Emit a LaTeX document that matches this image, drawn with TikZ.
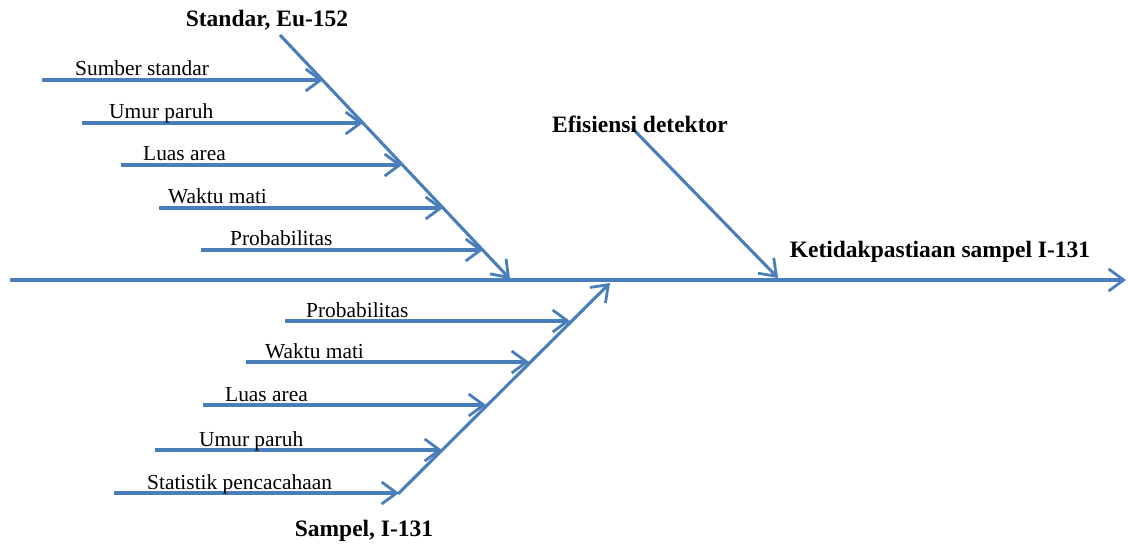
\documentclass[tikz,border=0pt]{standalone}
\usepackage{fontspec}
\setmainfont{Liberation Serif}
\usetikzlibrary{arrows.meta}
\definecolor{bone}{RGB}{74,126,187}
\begin{document}
\begin{tikzpicture}[x=1pt,y=-1pt,
  boneline/.style={draw=bone, line width=3.1pt, line cap=butt,
    -{Straight Barb[length=15pt,width=22pt,line width=2.8pt]}},
  riblabel/.style={anchor=base west, inner sep=0pt, font=\fontsize{21.4}{25}\selectfont},
  headlabel/.style={inner sep=0pt, font=\fontsize{23.5}{28}\selectfont\bfseries}]
\useasboundingbox (0,0) rectangle (1128,548);

% spine
\coordinate (sL) at (10,280);
\coordinate (sR) at (1126,280);
\draw[boneline] (sL) -- (sR);

% top bone
\coordinate (tS) at (280,35);
\coordinate (tE) at (510,279);
\draw[boneline] (tS) -- (tE);

% bottom bone
\coordinate (bS) at (398,494);
\coordinate (bE) at (610,283);
\draw[boneline] (bS) -- (bE);

% detector bone
\coordinate (eS) at (632,128);
\coordinate (eE) at (778,278);
\draw[boneline] (eS) -- (eE);

% heads
\node[headlabel] (hStd) at (267,20) {Standar, Eu-152};
\node[headlabel] (hSmp) at (364,531) {Sampel, I-131};
\node[headlabel] (hEff) at (640,124) {Efisiensi detektor};
\node[headlabel] (hRes) at (940,252) {Ketidakpastiaan sampel I-131};

% top ribs
\coordinate (t1s) at (42,80);  \coordinate (t1e) at (323,80);
\coordinate (t2s) at (82,123); \coordinate (t2e) at (363,123);
\coordinate (t3s) at (121,165);\coordinate (t3e) at (402,165);
\coordinate (t4s) at (159,208);\coordinate (t4e) at (443,208);
\coordinate (t5s) at (201,250);\coordinate (t5e) at (483,250);
\foreach \i in {1,...,5} {\draw[boneline] (t\i s) -- (t\i e);}
\node[riblabel] (lt1) at (75,76)  {Sumber standar};
\node[riblabel] (lt2) at (109,119) {Umur paruh};
\node[riblabel] (lt3) at (143,161) {Luas area};
\node[riblabel] (lt4) at (168,204) {Waktu mati};
\node[riblabel] (lt5) at (230,246) {Probabilitas};

% bottom ribs
\coordinate (b1s) at (285,321); \coordinate (b1e) at (570,321);
\coordinate (b2s) at (246,362); \coordinate (b2e) at (529,362);
\coordinate (b3s) at (203,405); \coordinate (b3e) at (486,405);
\coordinate (b4s) at (155,450); \coordinate (b4e) at (442,450);
\coordinate (b5s) at (114,493); \coordinate (b5e) at (399,493);
\foreach \i in {1,...,5} {\draw[boneline] (b\i s) -- (b\i e);}
\node[riblabel] (lb1) at (306,317) {Probabilitas};
\node[riblabel] (lb2) at (265,358) {Waktu mati};
\node[riblabel] (lb3) at (225,401) {Luas area};
\node[riblabel] (lb4) at (199,446) {Umur paruh};
\node[riblabel] (lb5) at (147,489) {Statistik pencacahaan};
\end{tikzpicture}
\end{document}
